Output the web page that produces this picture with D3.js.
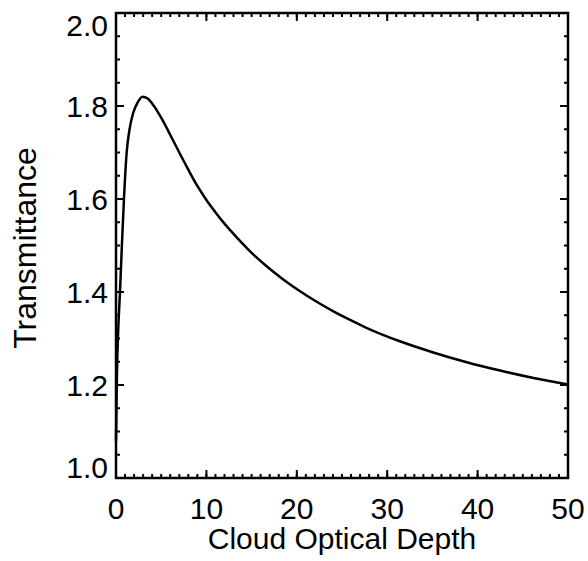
<!DOCTYPE html>
<html>
<head>
<meta charset="utf-8">
<script src="https://cdn.jsdelivr.net/npm/d3@7"></script>
<style>
  body { margin: 0; background: #fff; }
  text { font-family: "Liberation Sans", Arial, sans-serif; fill: #000; }
</style>
</head>
<body>
<div id="chart"></div>
<script>
// optical depth and transmittance
const depth = [0, 0.1, 0.25, 0.44, 0.65, 0.88, 1.18, 1.5, 1.9, 2.4, 2.95, 3.5, 4.2, 4.9, 5.5, 6.0, 7.0, 8.0, 9.0, 10.0,
    11.1, 12, 13, 14, 14.8, 16.5, 18.5, 20.4, 22.2, 24, 25.9, 27.7, 31.4, 35.1, 38.8, 42.5, 46.2, 50];
const transmittance = [1.08, 1.22, 1.32, 1.40, 1.50, 1.60, 1.70, 1.75, 1.785, 1.808, 1.820, 1.816, 1.800, 1.778, 1.757, 1.738, 1.700, 1.663, 1.628, 1.598,
    1.569, 1.547, 1.525, 1.504, 1.488, 1.458, 1.427, 1.401, 1.379, 1.359, 1.340, 1.323, 1.294, 1.270, 1.249, 1.231, 1.215, 1.201];

const xTicks = [0, 10, 20, 30, 40, 50];
const yTicks = [1.0, 1.2, 1.4, 1.6, 1.8, 2.0];

const W = 588, H = 561;
const margin = { top: 13, right: 20, bottom: 83, left: 116 };
const width = W - margin.left - margin.right;
const height = H - margin.top - margin.bottom;

const svg = d3.select("#chart")
    .append("svg")
    .attr("width", W)
    .attr("height", H)
    .append("g")
    .attr("transform", `translate(${margin.left},${margin.top})`);

const x = d3.scaleLinear().domain([0, 50]).range([0, width]);
const y = d3.scaleLinear().domain([1.0, 2.0]).range([height, 0]);

// minor/major ticks pointing inward on all four sides
const xMinor = d3.range(0, 50.01, 1);
const yMinor = d3.range(1.0, 2.001, 0.05);

function tickLines(vals, isX, side, len) {
    svg.append("g").selectAll("line")
        .data(vals)
        .enter()
        .append("line")
        .attr("x1", d => isX ? x(d) : (side === "left" ? 0 : width))
        .attr("x2", d => isX ? x(d) : (side === "left" ? len : width - len))
        .attr("y1", d => isX ? (side === "bottom" ? height : 0) : y(d))
        .attr("y2", d => isX ? (side === "bottom" ? height - len : len) : y(d))
        .attr("stroke", "#000")
        .attr("stroke-width", 2);
}
tickLines(xMinor, true, "bottom", 4);
tickLines(xMinor, true, "top", 4);
tickLines(xTicks, true, "bottom", 8);
tickLines(xTicks, true, "top", 8);
tickLines(yMinor, false, "left", 4);
tickLines(yMinor, false, "right", 4);
tickLines(yTicks, false, "left", 8);
tickLines(yTicks, false, "right", 8);

svg.append("rect")
    .attr("x", 0).attr("y", 0)
    .attr("width", width).attr("height", height)
    .attr("fill", "none")
    .attr("stroke", "#000")
    .attr("stroke-width", 2.5);

svg.append("g").selectAll("text")
    .data(xTicks)
    .enter()
    .append("text")
    .attr("x", d => x(d))
    .attr("y", height + 41)
    .attr("text-anchor", "middle")
    .style("font-size", "30px")
    .text(d => d);

// end labels are pushed inside the frame, the rest are centred on the tick
svg.append("g").selectAll("text")
    .data(yTicks)
    .enter()
    .append("text")
    .attr("x", -8)
    .attr("y", (d, i) => y(d) + (i === 0 ? 0 : i === yTicks.length - 1 ? 23 : 10.5))
    .attr("text-anchor", "end")
    .style("font-size", "30px")
    .text(d => d.toFixed(1));

const line = d3.line()
    .x((d, i) => x(depth[i]))
    .y(d => y(d))
    .curve(d3.curveMonotoneX);

svg.append("path")
    .datum(transmittance)
    .attr("fill", "none")
    .attr("stroke", "#000")
    .attr("stroke-width", 2.5)
    .attr("d", line);

svg.append("text")
    .attr("text-anchor", "middle")
    .attr("x", width / 2)
    .attr("y", height + 71)
    .style("font-size", "30px")
    .text("Cloud Optical Depth");

svg.append("text")
    .attr("text-anchor", "middle")
    .attr("transform", "rotate(-90)")
    .attr("x", -235)
    .attr("y", -80)
    .style("font-size", "32px")
    .text("Transmittance");
</script>
</body>
</html>
